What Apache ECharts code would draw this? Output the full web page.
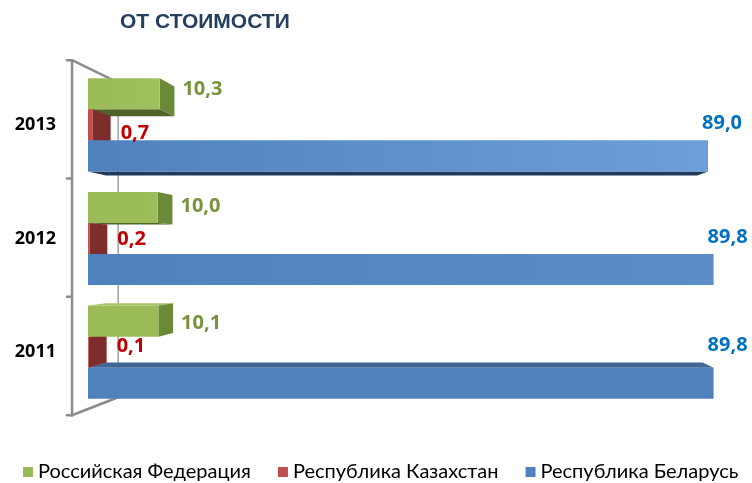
<!DOCTYPE html>
<html>
<head>
<meta charset="utf-8">
<script src="https://cdn.jsdelivr.net/npm/echarts@6/dist/echarts.min.js"></script>
<style>
  html, body { margin: 0; padding: 0; background: #ffffff; }
  #chart { width: 752px; height: 483px; }
</style>
</head>
<body>
<div id="chart"></div>
<script>
// ---- data ----
const years = ['2011', '2012', '2013'];
const seriesNames = ['Российская Федерация', 'Республика Казахстан', 'Республика Беларусь'];
const russia = [10.1, 10.0, 10.3];
const kazakhstan = [0.1, 0.2, 0.7];
const belarus = [89.8, 89.8, 89.0];
const titleText = 'ОТ СТОИМОСТИ';

// ---- styling ----
const palette = [
  { front: '#9BBB59', side: '#6B8A38', top: '#A7C567', bottom: '#4F6228', label: '#77933C' },
  { front: '#C0504D', side: '#7D2E2C', top: '#C9625F', bottom: '#632523', label: '#C00000' },
  { front: '#4F81BD', side: '#34587F', top: '#3E6797', bottom: '#213A5C', label: '#0070C0' }
];
const VALUE_FONT = '"Open Sans", "Liberation Sans", sans-serif';

// perspective: vanishing point as a fraction of the plot rectangle,
// and depth scale factors of the bar back plane and the side wall
const VP_X = 0.62, VP_Y = 0.557;
const BAR_DEPTH = 0.9537;
const WALL_FRONT = 1 / 0.9605;
const WALL_BACK = 0.886 / 0.9605;
const GROUP = 0.82;

function vanishing(cs) {
  return [cs.x + cs.width * VP_X, cs.y + cs.height * VP_Y];
}
function project(vp, p, s) {
  return [vp[0] + (p[0] - vp[0]) * s, vp[1] + (p[1] - vp[1]) * s];
}
function brighten(hex, add) {
  const n = parseInt(hex.slice(1), 16);
  const ch = [(n >> 16) & 255, (n >> 8) & 255, n & 255].map(v => Math.max(0, Math.min(255, Math.round(v + add))));
  return 'rgb(' + ch.join(',') + ')';
}
function fmt(v) { return v.toFixed(1).replace('.', ','); }

function labelPosition(k, x1, y0, y1, vp) {
  const yc = (y0 + y1) / 2;
  if (k === 0) {
    const bx = project(vp, [x1, yc], BAR_DEPTH)[0];
    return { x: bx + 8, y: yc + (yc - vp[1]) * 0.03 };
  }
  if (k === 1) {
    const bx = project(vp, [x1, yc], BAR_DEPTH)[0];
    return { x: bx + 10, y: yc + (vp[1] - yc) * 0.06 };
  }
  const by = project(vp, [x1, y0], BAR_DEPTH)[1];
  return { x: x1 - 6, y: Math.min(y0, by) - 17 };
}

function barRenderer(k) {
  return function (params, api) {
    const cs = params.coordSys;
    const vp = vanishing(cs);
    const val = api.value(0), cat = api.value(1);
    const start = api.coord([0, cat]);
    const end = api.coord([val, cat]);
    const band = api.size([0, 1])[1];
    const h = band * GROUP / 3;
    const y0 = start[1] - band * GROUP / 2 + k * h;
    const y1 = y0 + h;
    const x0 = start[0], x1 = end[0];
    const yc = (y0 + y1) / 2;
    const c = palette[k];
    const order = Math.round(1000 - Math.abs(yc - vp[1]) * 10);
    const children = [];
    const face = (pts, fill, i) => children.push({
      type: 'polygon', shape: { points: pts }, style: { fill: fill }, z2: order + i
    });
    const b = p => project(vp, p, BAR_DEPTH);

    if (y0 > vp[1]) face([[x0, y0], [x1, y0], b([x1, y0]), b([x0, y0])], c.top, 0);
    if (y1 < vp[1]) face([[x0, y1], [x1, y1], b([x1, y1]), b([x0, y1])], c.bottom, 0);
    if (x1 < vp[0]) face([[x1, y0], [x1, y1], b([x1, y1]), b([x1, y0])], c.side, 1);

    // lighter towards the far end, stronger for the upper rows
    const lift = Math.max(0, Math.min(40, 14 + 30 * (vp[1] - yc) / (vp[1] - cs.y)));
    const frac = (x1 - x0) / cs.width;
    children.push({
      type: 'rect',
      shape: { x: x0, y: y0, width: Math.max(x1 - x0, 0.8), height: h },
      style: {
        fill: new echarts.graphic.LinearGradient(0, 0, 1, 0, [
          { offset: 0, color: c.front },
          { offset: 1, color: brighten(c.front, lift * frac) }
        ])
      },
      z2: order + 2
    });

    const lp = labelPosition(k, x1, y0, y1, vp);
    children.push({
      type: 'text',
      x: lp.x, y: lp.y,
      style: {
        text: fmt(val),
        fill: c.label,
        font: 'bold 20px ' + VALUE_FONT,
        align: 'left',
        verticalAlign: 'middle'
      },
      z2: 100000
    });
    return { type: 'group', children: children };
  };
}

// side wall with its category ticks, drawn in perspective
function wallRenderer(params, api) {
  const cs = params.coordSys;
  const vp = vanishing(cs);
  const top = cs.y, bottom = cs.y + cs.height, left = cs.x;
  const ft = project(vp, [left, top], WALL_FRONT);
  const fb = project(vp, [left, bottom], WALL_FRONT);
  const bt = project(vp, [left, top], WALL_BACK);
  const bb = project(vp, [left, bottom], WALL_BACK);
  const frontStyle = { stroke: '#8C8C8C', lineWidth: 2.5, lineCap: 'round' };
  const backStyle = { stroke: '#A6A6A6', lineWidth: 1.6 };
  const line = (a, b, style) => ({ type: 'line', shape: { x1: a[0], y1: a[1], x2: b[0], y2: b[1] }, style: style, z2: 0 });
  const children = [
    line(bt, bb, backStyle),
    line(ft, bt, frontStyle),
    line(fb, bb, frontStyle),
    line(ft, fb, frontStyle)
  ];
  const band = cs.height / years.length;
  for (let i = 0; i <= years.length; i++) {
    const p = project(vp, [left, top + i * band], WALL_FRONT);
    children.push(line([p[0] - 5, p[1]], p, frontStyle));
  }
  return { type: 'group', children: children };
}

const columns = [russia, kazakhstan, belarus];
const barSeries = columns.map((arr, k) => ({
  type: 'custom',
  name: seriesNames[k],
  coordinateSystem: 'cartesian2d',
  renderItem: barRenderer(k),
  itemStyle: { color: palette[k].front },
  encode: { x: 0, y: 1 },
  data: arr.map((v, i) => [v, i]),
  z: 2
}));

const chart = echarts.init(document.getElementById('chart'), null, { renderer: 'canvas' });
chart.setOption({
  animation: false,
  backgroundColor: '#ffffff',
  title: {
    text: titleText,
    left: 120,
    top: 12,
    padding: 0,
    textStyle: { fontFamily: '"Liberation Sans", Arial, sans-serif', fontSize: 21, fontWeight: 'bold', color: '#243F60' }
  },
  grid: { left: 88, right: 37, top: 68, bottom: 74, containLabel: false },
  xAxis: { type: 'value', min: 0, max: 90, show: false, splitLine: { show: false } },
  yAxis: {
    type: 'category',
    data: years,
    axisLine: { show: false },
    axisTick: { show: false },
    splitLine: { show: false },
    axisLabel: { margin: 32, fontFamily: VALUE_FONT, fontSize: 18, fontWeight: 'bold', color: '#000000' }
  },
  legend: {
    data: seriesNames,
    left: 23,
    top: 462,
    padding: 0,
    icon: 'rect',
    itemWidth: 10,
    itemHeight: 10,
    itemGap: 27,
    textStyle: { fontFamily: 'Lato, "Noto Sans", sans-serif', fontSize: 20, color: '#000000' }
  },
  series: [{
    type: 'custom',
    name: 'wall',
    coordinateSystem: 'cartesian2d',
    silent: true,
    renderItem: wallRenderer,
    encode: { x: 0, y: 1 },
    data: [[0, 0]],
    z: 1
  }].concat(barSeries)
});
</script>
</body>
</html>
